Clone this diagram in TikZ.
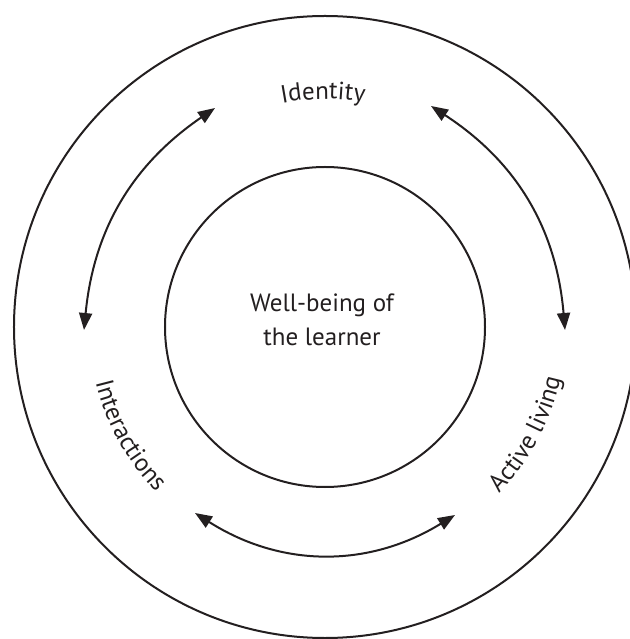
\documentclass[tikz,border=0pt]{standalone}
\usepackage{fontspec}
\setmainfont{PT Sans}
\usetikzlibrary{arrows.meta,decorations.text}
\definecolor{ink}{HTML}{231F20}
\tikzset{rg/.append style={draw=ink,circle,line width=2pt,inner sep=0pt}}
\tikzset{ar/.append style={draw=ink,line width=2pt,>={Triangle[length=17pt,width=13pt]},<->}}
\newcommand{\lbfont}{\fontsize{25}{34}\selectfont}

\begin{document}
\begin{tikzpicture}[x=1pt,y=1pt]
                \useasboundingbox (-325,-312) rectangle (304,327);
                % rings
                \node[rg,minimum size=622pt] (outer) at (0,0) {};
                \node[rg,minimum size=320pt] (inner) at (0,0) {};
                \node[align=center,font=\lbfont,text=ink] (learner) at (-3,7) {Well-being of\\the learner};
                % arrow ends
                \coordinate (tl1) at (-241,-3);
                \coordinate (tl2) at (-110,219);
                \coordinate (tr1) at (106,221);
                \coordinate (tr2) at (240,-3);
                \coordinate (bl) at (-130,-186);
                \coordinate (br) at (130,-188);
                \draw[ar] (tl1) to[bend left=25] (tl2);
                \draw[ar] (tr1) to[bend left=26] (tr2);
                \draw[ar] (bl) to[bend right=32] (br);
                % labels
                \path[decorate,decoration={text along path,text align=center,text color=ink,text={|\lbfont|Identity}}] (121:228) arc[start angle=121,end angle=60,radius=228];
                \path[decorate,decoration={text along path,text align=center,text color=ink,text={|\lbfont|Interactions}}] (179:236) arc[start angle=179,end angle=239,radius=236];
                \path[decorate,decoration={text along path,text align=center,text color=ink,text={|\lbfont|Active living}}] (-58:241) arc[start angle=-58,end angle=2,radius=241];
            \end{tikzpicture}
\end{document}
